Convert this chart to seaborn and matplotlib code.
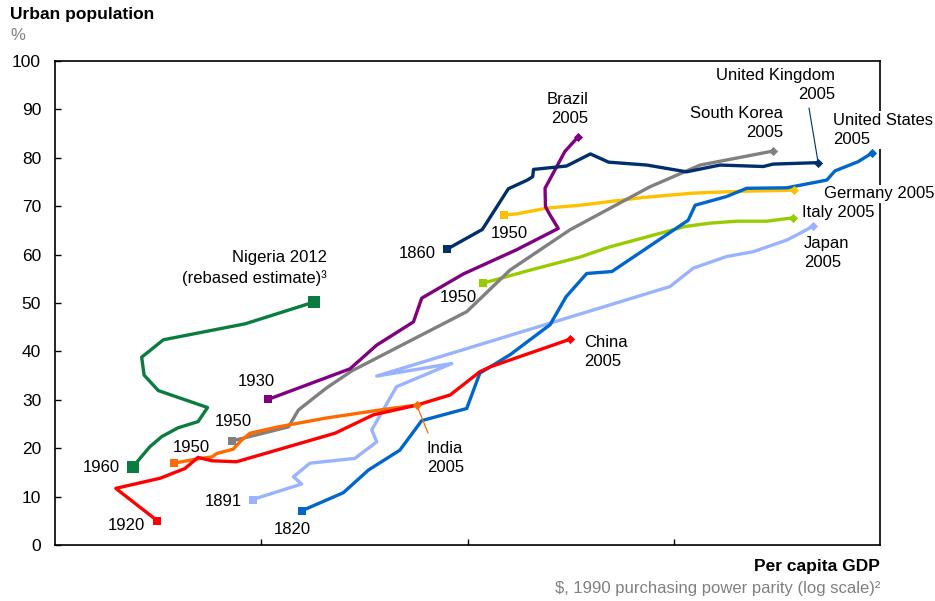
import numpy as np
import pandas as pd
import matplotlib.pyplot as plt
import seaborn as sns

# per capita GDP ($, 1990 PPP) and urban population (%)
nigeria_gdp = [489, 537, 574, 628, 703, 741, 563, 520, 513, 579, 914, 1343]
nigeria_urb = [16.2, 20.3, 22.4, 24.2, 25.5, 28.4, 31.9, 35.1, 38.8, 42.4, 45.7, 50.2]
china_gdp = [560, 444, 569, 653, 703, 759, 871, 1510, 1871, 2382, 2871, 3388, 3589, 5598]
china_urb = [5.0, 11.7, 13.8, 15.8, 18.1, 17.4, 17.2, 23.1, 26.9, 28.9, 31.0, 35.8, 36.8, 42.5]
india_gdp = [614, 690, 759, 780, 855, 897, 940, 1099, 1429, 1977, 2382]
india_urb = [16.9, 17.7, 18.2, 18.9, 19.8, 21.7, 23.1, 24.4, 26.2, 28.0, 28.9]
korea_gdp = [848, 897, 1164, 1231, 1442, 1660, 3148, 4009, 5598, 8750, 11590, 17420]
korea_urb = [21.5, 22.0, 24.4, 27.9, 32.5, 36.0, 48.2, 56.8, 65.1, 74.0, 78.5, 81.4]
brazil_gdp = [1040, 1641, 1905, 2339, 2449, 3090, 4159, 5248, 5012, 4887, 4875, 5152, 5445, 5875]
brazil_urb = [30.1, 36.4, 41.3, 46.1, 51.0, 56.0, 61.0, 65.4, 68.2, 69.9, 73.7, 77.5, 81.3, 84.4]
uk_gdp = [2818, 3436, 3972, 4416, 4550, 4571, 5495, 6281, 6950, 8610, 10740, 12940, 16480, 17420, 22390]
uk_urb = [61.1, 65.2, 73.6, 75.4, 76.1, 77.6, 78.3, 80.8, 79.1, 78.5, 77.1, 78.5, 78.2, 78.7, 79.0]
japan_gdp = [953, 1253, 1197, 1312, 1687, 1905, 1853, 2128, 2897, 1905, 9795, 11150, 13430, 15590,
             18790, 20230, 21780]
japan_urb = [9.4, 12.6, 14.1, 16.9, 17.9, 21.3, 23.8, 32.7, 37.5, 34.9, 53.4, 57.2, 59.6, 60.6,
             63.0, 64.4, 65.9]
us_gdp = [1256, 1581, 1820, 2168, 2449, 3148, 3388, 4009, 5012, 5483, 6152, 7079, 10840, 11270,
          13430, 15030, 18790, 23500, 24600, 27990, 30270]
us_urb = [7.1, 10.8, 15.5, 19.6, 25.7, 28.2, 35.5, 39.3, 45.5, 51.3, 56.1, 56.5, 67.1, 70.2,
          72.0, 73.7, 73.8, 75.4, 77.3, 79.2, 81.0]
germany_gdp = [3873, 4159, 4920, 5929, 8433, 11150, 14760, 19590]
germany_urb = [68.2, 68.4, 69.6, 70.2, 71.8, 72.7, 73.1, 73.3]
italy_gdp = [3451, 4487, 5929, 7000, 9268, 10640, 12250, 14220, 16790, 19500]
italy_urb = [54.1, 56.8, 59.5, 61.6, 64.4, 65.8, 66.5, 66.9, 66.9, 67.6]

yticks = list(range(0, 101, 10))

# name, gdp, urban, colour, start marker size, end marker
series = [
    ("Nigeria", nigeria_gdp, nigeria_urb, "#0A7D3E", 70, "s"),
    ("Japan", japan_gdp, japan_urb, "#99B3FF", 36, "D"),
    ("Italy", italy_gdp, italy_urb, "#99CC00", 36, "D"),
    ("Germany", germany_gdp, germany_urb, "#FFC000", 36, "D"),
    ("South Korea", korea_gdp, korea_urb, "#808080", 36, "D"),
    ("Brazil", brazil_gdp, brazil_urb, "#800080", 36, "D"),
    ("India", india_gdp, india_urb, "#FF6A00", 30, "D"),
    ("United States", us_gdp, us_urb, "#0066CC", 36, "D"),
    ("China", china_gdp, china_urb, "#FF0000", 28, "D"),
    ("United Kingdom", uk_gdp, uk_urb, "#002F6C", 36, "D"),
]

sns.set_theme(style="white")
plt.rcParams['font.family'] = ['Liberation Sans', 'DejaVu Sans']

fig = plt.figure(figsize=(9.35, 6.01), dpi=100)
ax = fig.add_axes([55/935, 1-545/601, 825/935, 484/601])

for name, gdp, urb, col, ms, endm in series:
    df = pd.DataFrame({"gdp": gdp, "urb": urb})
    sns.lineplot(data=df, x="gdp", y="urb", sort=False, estimator=None, color=col,
                 lw=2.4, ax=ax, zorder=3)
    sns.scatterplot(x=[gdp[0]], y=[urb[0]], marker="s", s=ms, color=col, linewidth=0,
                    ax=ax, zorder=4)
    if endm == "s":
        sns.scatterplot(x=[gdp[-1]], y=[urb[-1]], marker="s", s=ms, color=col, linewidth=0,
                        ax=ax, zorder=4)
    else:
        sns.scatterplot(x=[gdp[-1]], y=[urb[-1]], marker="D", s=22, color=col, linewidth=0,
                        ax=ax, zorder=4)

ax.set_xscale("log")
ax.set_xlim(10**2.5, 10**4.5)
ax.set_ylim(0, 100)
ax.set_xticks([1000, 10**3.5, 10000])
ax.set_xticklabels([])
ax.xaxis.set_minor_locator(plt.NullLocator())
ax.set_yticks(yticks)
ax.set_yticklabels([str(v) for v in yticks], fontsize=12.5, color="black")
ax.tick_params(axis="both", direction="in", length=4, width=1, color="black",
               left=True, bottom=True, pad=10)
ax.set_xlabel("")
ax.set_ylabel("")
for sp in ax.spines.values():
    sp.set_color("black")
    sp.set_linewidth(1.2)
ax.grid(False)


def fx(px):
    return px / 935


def fy(py):
    return 1 - py / 601


labels = [
    ("Nigeria 2012\n(rebased estimate)³", 327, 268, "right", False),
    ("1960", 120, 468, "right", False),
    ("1920", 145, 526, "right", False),
    ("1950", 210, 447, "right", False),
    ("1950", 252, 422, "right", False),
    ("1930", 275, 382, "right", False),
    ("1891", 242, 501, "right", False),
    ("1820", 311, 529, "right", False),
    ("1860", 436, 253, "right", False),
    ("1950", 528, 234, "right", False),
    ("1950", 477, 297, "right", False),
    ("Brazil\n2005", 588, 109, "right", False),
    ("South Korea\n2005", 783, 123, "right", False),
    ("United Kingdom\n2005", 835, 85, "right", False),
    ("United States\n2005", 833, 130, "left", True),
    ("Germany 2005", 824, 194, "left", True),
    ("Italy 2005", 802, 213, "left", False),
    ("Japan\n2005", 804, 253, "left", False),
    ("China\n2005", 584, 352, "left", False),
    ("India\n2005", 427, 458, "left", False),
]
for txt, px, py, ha, box in labels:
    kw = {}
    if box:
        kw["bbox"] = dict(boxstyle="square,pad=0.1", fc="white", ec="none")
    fig.text(fx(px), fy(py), txt, ha=ha, va="center", fontsize=12, color="black",
             linespacing=1.32, zorder=5, **kw)

# leader lines
ax.annotate("", xy=(india_gdp[-1], india_urb[-1]), xytext=(fx(428), fy(433)),
            textcoords="figure fraction",
            arrowprops=dict(arrowstyle="-", color="#FF6A00", lw=0.9, shrinkA=0, shrinkB=0))
ax.annotate("", xy=(uk_gdp[-1], uk_urb[-1]), xytext=(fx(809), fy(108)),
            textcoords="figure fraction",
            arrowprops=dict(arrowstyle="-", color="#002F6C", lw=0.8, shrinkA=0, shrinkB=0))

fig.text(fx(10), fy(15), "Urban population", ha="left", va="center", fontsize=12.5,
         fontweight="bold", color="black")
fig.text(fx(10), fy(35), "%", ha="left", va="center", fontsize=12, color="#808080")
fig.text(fx(880), fy(567), "Per capita GDP", ha="right", va="center", fontsize=12.5,
         fontweight="bold", color="black")
fig.text(fx(880), fy(588), "\\$, 1990 purchasing power parity (log scale)²", ha="right",
         va="center", fontsize=12, color="#808080")

fig.savefig("out.png", dpi=100)
